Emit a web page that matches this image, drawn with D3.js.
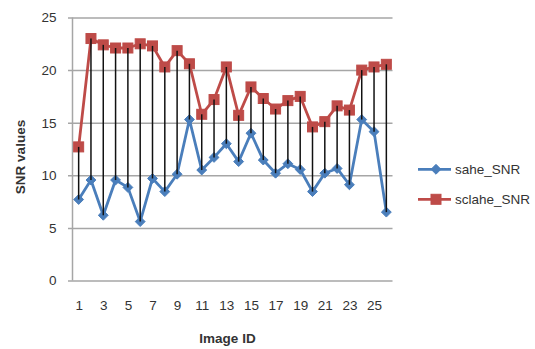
<!DOCTYPE html>
<html>
<head>
<meta charset="utf-8">
<script src="https://cdn.jsdelivr.net/npm/d3@7"></script>
<style>
  html, body { margin: 0; padding: 0; background: #fff; }
  svg { display: block; }
  text { font-family: "Liberation Sans", Arial, sans-serif; fill: #333; }
</style>
</head>
<body>
<svg id="chart" width="535" height="349"></svg>
<script>
// Image IDs along the x axis
const imageIds = d3.range(1, 27);
// Labels shown on the category axis (every other ID)
const xTickLabels = [1, 3, 5, 7, 9, 11, 13, 15, 17, 19, 21, 23, 25];
// Value axis ticks
const yTicks = [0, 5, 10, 15, 20, 25];

// SNR per image for each enhancement method
const saheSNR = [7.7, 9.55, 6.2, 9.55, 8.85, 5.6, 9.7, 8.45, 10.1, 15.3,
                 10.5, 11.7, 13.0, 11.3, 14.0, 11.45, 10.2, 11.1, 10.55, 8.45,
                 10.2, 10.65, 9.1, 15.3, 14.15, 6.5];
const sclaheSNR = [12.7, 23.0, 22.4, 22.1, 22.1, 22.5, 22.3, 20.3, 21.85, 20.6,
                   15.8, 17.2, 20.3, 15.7, 18.4, 17.3, 16.3, 17.1, 17.5, 14.6,
                   15.1, 16.6, 16.2, 20.0, 20.3, 20.55];

const seriesNames = ["sahe_SNR", "sclahe_SNR"];
const blue = "#4A7EBB";
const red = "#BE4B48";
const grid = "#A6A6A6";

const svg = d3.select("#chart");
const plot = { left: 72.5, right: 392.5, top: 17.5, bottom: 280.5 };

const x = d3.scalePoint().domain(imageIds).range([plot.left, plot.right]).padding(0.5);
const y = d3.scaleLinear().domain([0, 25]).range([plot.bottom, plot.top]);

// Horizontal gridlines with short outside tick marks
const yAxis = d3.axisLeft(y).tickValues(yTicks).tickSize(-(plot.right - plot.left) - 4.5).tickPadding(11);
const yg = svg.append("g").attr("transform", `translate(${plot.left - 4.5},0)`).call(yAxis);
yg.select(".domain").remove();
yg.selectAll(".tick line").attr("stroke", grid).attr("stroke-width", 1.5)
  .attr("x1", 0).attr("x2", plot.right - plot.left + 4.5);
yg.selectAll(".tick text").attr("x", -11.5).style("font-size", "13.5px").attr("fill", "#333");

// Vertical value axis line
svg.append("line")
  .attr("x1", plot.left).attr("x2", plot.left)
  .attr("y1", plot.top).attr("y2", plot.bottom)
  .attr("stroke", grid).attr("stroke-width", 1.5);

// Category axis labels
const xAxis = d3.axisBottom(x).tickValues(xTickLabels).tickSize(0).tickPadding(20);
const xg = svg.append("g").attr("transform", `translate(0,${plot.bottom})`).call(xAxis);
xg.select(".domain").remove();
xg.selectAll(".tick text").style("font-size", "13.5px").attr("fill", "#333");

// Lines
const rows = imageIds.map((id, i) => ({ id, lo: saheSNR[i], hi: sclaheSNR[i] }));
const lineLo = d3.line().x(d => x(d.id)).y(d => y(d.lo));
const lineHi = d3.line().x(d => x(d.id)).y(d => y(d.hi));

svg.append("path").datum(rows).attr("d", lineLo)
  .attr("fill", "none").attr("stroke", blue).attr("stroke-width", 2.8).attr("stroke-linejoin", "round");
svg.append("path").datum(rows).attr("d", lineHi)
  .attr("fill", "none").attr("stroke", red).attr("stroke-width", 2.8).attr("stroke-linejoin", "round");

// Markers
const diamond = d3.symbol().type(d3.symbolDiamond2).size(62);
svg.append("g").selectAll("path").data(rows).join("path")
  .attr("d", diamond)
  .attr("transform", d => `translate(${x(d.id)},${y(d.lo)})`)
  .attr("fill", blue).attr("stroke", blue).attr("stroke-width", 1);

const sq = 10;
svg.append("g").selectAll("rect").data(rows).join("rect")
  .attr("x", d => x(d.id) - sq / 2).attr("y", d => y(d.hi) - sq / 2)
  .attr("width", sq).attr("height", sq)
  .attr("fill", red).attr("stroke", red).attr("stroke-width", 1);

// High-low lines between the two series
svg.append("g").selectAll("line").data(rows).join("line")
  .attr("x1", d => x(d.id)).attr("x2", d => x(d.id))
  .attr("y1", d => y(d.hi)).attr("y2", d => y(d.lo))
  .attr("stroke", "#111").attr("stroke-width", 1.5);

// Axis titles
svg.append("text")
  .attr("x", (plot.left + plot.right) / 2 - 5).attr("y", 342.5)
  .attr("text-anchor", "middle")
  .style("font-size", "13.5px").style("font-weight", "bold")
  .text("Image ID");

svg.append("text")
  .attr("transform", "translate(25,157) rotate(-90)")
  .attr("text-anchor", "middle")
  .style("font-size", "13.5px").style("font-weight", "bold")
  .text("SNR values");

// Legend
const legend = svg.append("g");
const legendItems = [
  { name: seriesNames[0], color: blue, y: 169.3, shape: "diamond" },
  { name: seriesNames[1], color: red, y: 199.3, shape: "square" }
];
legendItems.forEach(item => {
  legend.append("line")
    .attr("x1", 418).attr("x2", 451).attr("y1", item.y).attr("y2", item.y)
    .attr("stroke", item.color).attr("stroke-width", 2.8);
  if (item.shape === "diamond") {
    legend.append("path").attr("d", diamond)
      .attr("transform", `translate(436,${item.y})`)
      .attr("fill", item.color).attr("stroke", item.color).attr("stroke-width", 1);
  } else {
    legend.append("rect")
      .attr("x", 436 - sq / 2).attr("y", item.y - sq / 2).attr("width", sq).attr("height", sq)
      .attr("fill", item.color).attr("stroke", item.color).attr("stroke-width", 1);
  }
  legend.append("text")
    .attr("x", 455).attr("y", item.y).attr("dy", "0.35em")
    .style("font-size", "13.5px")
    .text(item.name);
});
</script>
</body>
</html>
